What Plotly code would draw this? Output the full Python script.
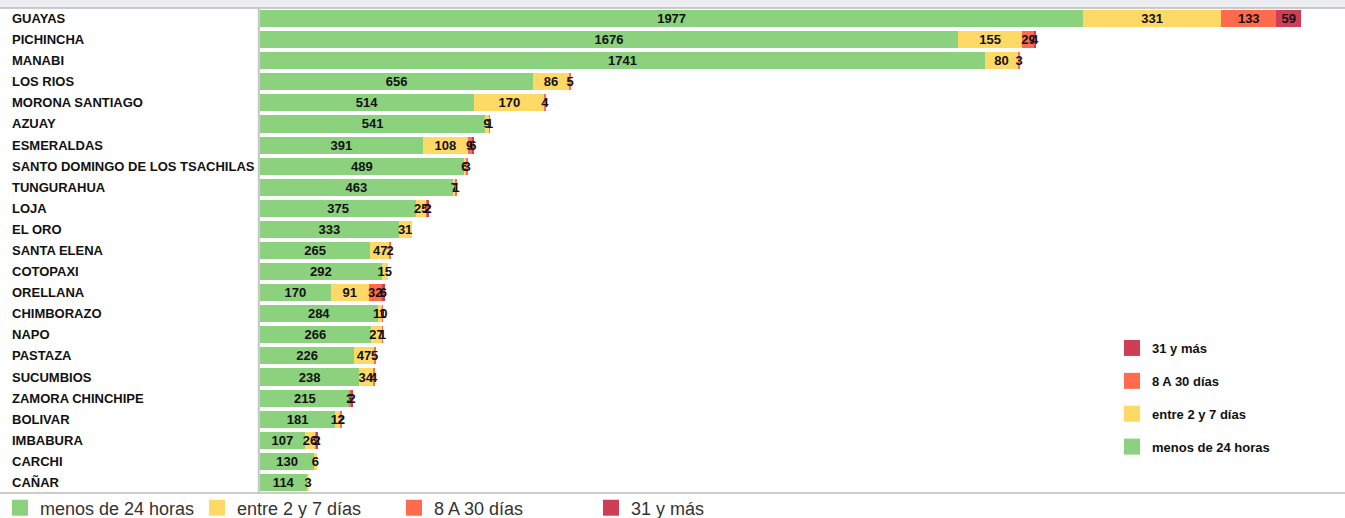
import plotly.graph_objects as go

provincias = ["GUAYAS", "PICHINCHA", "MANABI", "LOS RIOS", "MORONA SANTIAGO", "AZUAY",
              "ESMERALDAS", "SANTO DOMINGO DE LOS TSACHILAS", "TUNGURAHUA", "LOJA", "EL ORO",
              "SANTA ELENA", "COTOPAXI", "ORELLANA", "CHIMBORAZO", "NAPO", "PASTAZA",
              "SUCUMBIOS", "ZAMORA CHINCHIPE", "BOLIVAR", "IMBABURA", "CARCHI", "CAÑAR"]
menos_24 = [1977, 1676, 1741, 656, 514, 541, 391, 489, 463, 375, 333, 265, 292, 170, 284,
            266, 226, 238, 215, 181, 107, 130, 114]
entre_2_7 = [331, 155, 80, 86, 170, 9, 108, 6, 7, 25, 31, 47, 15, 91, 10, 27, 47, 34, 1, 12,
             26, 6, 3]
ocho_30 = [133, 29, 3, 5, 4, 1, 9, 3, 1, 2, None, 2, None, 32, 1, 1, 5, 4, 3, 2, 3, None, None]
mas_31 = [59, 4, None, None, None, None, 6, None, None, 2, None, None, None, 6, None, None,
          None, None, 2, None, 2, None, None]

series_names = ["menos de 24 horas", "entre 2 y 7 días", "8 A 30 días", "31 y más"]
series_values = [menos_24, entre_2_7, ocho_30, mas_31]
colors = ["#8CD17D", "#FFD966", "#FF6B4C", "#D03E56"]

FONT = "Liberation Sans, Arial, sans-serif"
W, H = 1345, 518
ML, MR, MT, MB = 260, 0, 8, 25
PW = W - ML - MR
PH = H - MT - MB

fig = go.Figure()
for name, vals, col in zip(series_names, series_values, colors):
    fig.add_trace(go.Bar(
        y=provincias, x=vals, orientation="h", name=name, marker=dict(color=col, line=dict(width=0)),
        text=vals, texttemplate="%{x}", textposition="inside", insidetextanchor="middle",
        textangle=0, constraintext="none", cliponaxis=False,
        textfont=dict(family=FONT, size=13, color="#111111", weight="bold"),
        showlegend=False, legendgroup=name,
    ))

# legend entries (bottom, horizontal)
for name, col in zip(series_names, colors):
    fig.add_trace(go.Scatter(
        x=[None], y=[None], mode="markers", name=name, legendgroup=name, legend="legend",
        marker=dict(symbol="square", size=16, color=col), showlegend=True, hoverinfo="skip"))
# legend entries (right, vertical, reversed order)
for name, col in reversed(list(zip(series_names, colors))):
    fig.add_trace(go.Scatter(
        x=[None], y=[None], mode="markers", name=name, legendgroup=name + " (2)", legend="legend2",
        marker=dict(symbol="square", size=16, color=col), showlegend=True, hoverinfo="skip"))

annotations = []
for p in provincias:
    annotations.append(dict(
        x=(10 - ML) / PW, xref="paper", xanchor="left", y=p, yref="y", yanchor="middle",
        text=p, showarrow=False, font=dict(family=FONT, size=13, color="#111111", weight="bold")))

x0p = -ML / PW
shapes = [
    dict(type="rect", xref="paper", yref="paper", x0=x0p, x1=1, y0=1, y1=1 + MT / PH,
         fillcolor="#ECEDF0", line=dict(width=0), layer="below"),
    dict(type="line", xref="paper", yref="paper", x0=x0p, x1=1, y0=1, y1=1,
         line=dict(color="#BBBBBB", width=1.5)),
    dict(type="line", xref="paper", yref="paper", x0=x0p, x1=1, y0=0, y1=0,
         line=dict(color="#BBBBBB", width=1.5)),
    dict(type="line", xref="paper", yref="paper", x0=-1.2 / PW, x1=-1.2 / PW, y0=0, y1=1,
         line=dict(color="#C4C4C4", width=2)),
]

fig.update_layout(
    width=W, height=H, margin=dict(l=ML, r=MR, t=MT, b=MB, autoexpand=False),
    barmode="stack", bargap=0.19,
    paper_bgcolor="white", plot_bgcolor="white",
    font=dict(family=FONT, color="#333333"),
    uniformtext=dict(minsize=13, mode="show"),
    xaxis=dict(visible=False, range=[0, PW / 0.4164], fixedrange=True),
    yaxis=dict(type="category", categoryorder="array", categoryarray=provincias,
               autorange="reversed", showticklabels=False, showgrid=False, zeroline=False,
               showline=False, ticks="", fixedrange=True),
    legend=dict(orientation="h", xref="container", yref="container", x=-10 / W, y=1 - 508 / H,
                xanchor="left", yanchor="middle", entrywidth=152, entrywidthmode="pixels",
                font=dict(family=FONT, size=18, color="#333333"), itemclick=False,
                bgcolor="rgba(0,0,0,0)"),
    legend2=dict(orientation="v", xref="container", yref="container",
                 x=1112 / W, y=1 - 333 / H, xanchor="left", yanchor="top",
                 traceorder="grouped", tracegroupgap=13,
                 font=dict(family=FONT, size=13, color="#111111", weight="bold"),
                 bgcolor="rgba(0,0,0,0)", itemclick=False),
    annotations=annotations, shapes=shapes,
)

fig.write_html("out.html", config={"displayModeBar": False},
               post_script="document.body.style.margin='0';")
